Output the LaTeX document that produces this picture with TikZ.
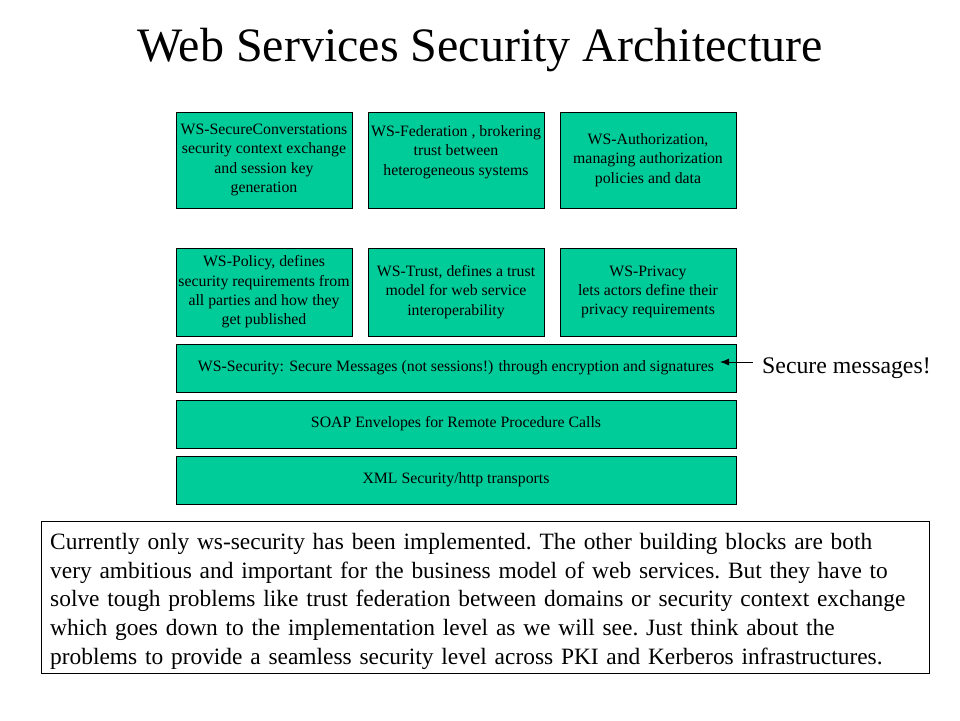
\documentclass[tikz,border=0pt]{standalone}
\usepackage{fontspec}
\setmainfont{Liberation Serif}
\usetikzlibrary{arrows.meta}
\definecolor{layer}{HTML}{00CC99}
\definecolor{ink}{HTML}{000000}
\newcommand{\boxfont}{\fontsize{15.8}{19.3}\selectfont}
\newcommand{\bodyfont}{\fontsize{23.4}{28.75}\selectfont\frenchspacing}
\newcommand{\titlefont}{\fontsize{48}{54}\selectfont}
\tikzset{
  block/.style={draw=ink,fill=layer,line width=0.9pt,inner sep=0,align=center,font=\boxfont,
    minimum width=176,minimum height=96},
  stack/.style={block,minimum width=560,minimum height=48},
}
\begin{document}
\begin{tikzpicture}[x=1pt,y=-1pt]
\useasboundingbox (0,0) rectangle (960,720);
\node[font=\titlefont,inner sep=0] (title) at (480,50) {Web Services Security Architecture};
% upper row
\node[block] (secconv) at (264,160) {WS-SecureConverstations\\security context exchange\\and session key\\generation};
\node[block] (federation) at (456,160) {WS-Federation , brokering\\trust between\\heterogeneous systems\\\mbox{}};
\node[block] (authz) at (648,160) {WS-Authorization,\\managing authorization\\policies and data};
% middle row
\node[block,minimum height=88] (policy) at (264,292) {WS-Policy, defines\\security requirements from\\all parties and how they\\get published};
\node[block,minimum height=88] (trust) at (456,292) {WS-Trust, defines a trust\\model for web service\\interoperability};
\node[block,minimum height=88] (privacy) at (648,292) {WS-Privacy\\lets actors define their\\privacy requirements};
% base layers
\node[stack] (wssec) at (456,368) {WS-Security: Secure Messages (not sessions!) through encryption and signatures};
\node[stack] (soap) at (456,424) {SOAP Envelopes for Remote Procedure Calls};
\node[stack] (xml) at (456,480) {XML Security/http transports};
% annotation
\node[anchor=west,inner sep=0,font=\fontsize{23.8}{28}\selectfont] (msg) at (762,368) {Secure messages!};
\coordinate (tip) at (720,362);
\draw[ink,line width=0.9pt,-{Latex[length=9pt,width=7pt]}] ([xshift=-9pt,yshift=6pt]msg.west) -- (tip);
% comment box
\draw[ink,line width=0.9pt] (41,521) rectangle (929,673);
\node[anchor=north west,inner sep=0,text width=870,align=left,font=\bodyfont] (note) at (50,533)
  {Currently only ws-security has been implemented. The other building blocks are both\\
   very ambitious and important for the business model of web services. But they have to\\
   solve tough problems like trust federation between domains or security context exchange\\
   which goes down to the implementation level as we will see. Just think about the\\
   problems to provide a seamless security level across PKI and Kerberos infrastructures.};
\end{tikzpicture}
\end{document}
